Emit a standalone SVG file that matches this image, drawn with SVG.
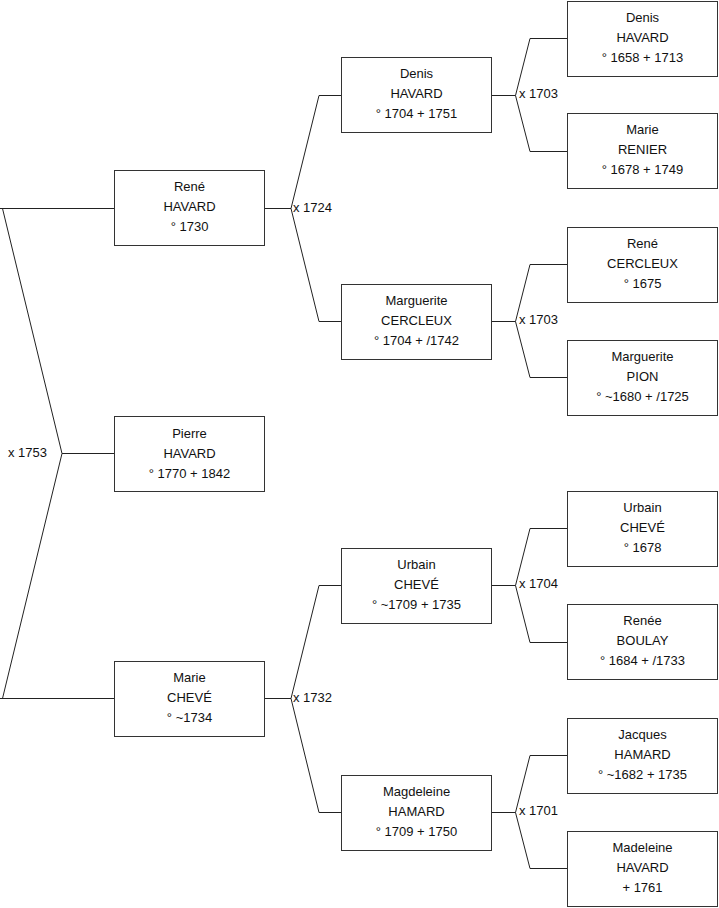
<svg xmlns="http://www.w3.org/2000/svg" width="719" height="908" viewBox="0 0 719 908">
<style>
.box{fill:#fff;stroke:#333;stroke-width:1}
.t{font-family:"Liberation Sans",Arial,sans-serif;font-size:13px;fill:#111;text-anchor:middle}
.lbl{font-family:"Liberation Sans",Arial,sans-serif;font-size:13px;fill:#111}
.c{fill:none;stroke:#222;stroke-width:1}
</style>
<rect width="719" height="908" fill="#fff"/>
<g id="connectors">
<path class="c" d="M114.5 453.5H62"/>
<path class="c" d="M114.5 208.5H0M2.5 208.5L62 453.5L2.5 698.5M0 698.5H114.5"/>
<path class="c" d="M264.5 208.5H291M341.5 95.5H319L291 208.5L319 321.5H341.5"/>
<path class="c" d="M264.5 698.5H291M341.5 585.5H319L291 698.5L319 812.5H341.5"/>
<path class="c" d="M491.5 95.5H515.5M567.5 38.5H530L515.5 95.5L530 151.5H567.5"/>
<path class="c" d="M491.5 321.5H515.5M567.5 264.5H530L515.5 321.5L530 377.5H567.5"/>
<path class="c" d="M491.5 585.5H515.5M567.5 528.5H530L515.5 585.5L530 642.5H567.5"/>
<path class="c" d="M491.5 812.5H515.5M567.5 755.5H530L515.5 812.5L530 868.5H567.5"/>
<text class="lbl" x="47" y="457" text-anchor="end">x 1753</text>
<text class="lbl" x="293" y="211.5">x 1724</text>
<text class="lbl" x="293" y="701.5">x 1732</text>
<text class="lbl" x="519" y="98">x 1703</text>
<text class="lbl" x="519" y="324">x 1703</text>
<text class="lbl" x="519" y="588">x 1704</text>
<text class="lbl" x="519" y="815">x 1701</text>
</g>
<g id="pierre"><rect class="box" x="114.5" y="416.5" width="150" height="75"/><text class="t" x="189.5" y="437.5">Pierre</text><text class="t" x="189.5" y="457.5">HAVARD</text><text class="t" x="189.5" y="477.5">° 1770 + 1842</text></g>
<g id="rene1"><rect class="box" x="114.5" y="170.5" width="150" height="75"/><text class="t" x="189.5" y="191">René</text><text class="t" x="189.5" y="211">HAVARD</text><text class="t" x="189.5" y="231">° 1730</text></g>
<g id="marie1"><rect class="box" x="114.5" y="661.5" width="150" height="75"/><text class="t" x="189.5" y="682">Marie</text><text class="t" x="189.5" y="702">CHEVÉ</text><text class="t" x="189.5" y="722">° ~1734</text></g>
<g id="denis2"><rect class="box" x="341.5" y="57.5" width="150" height="75"/><text class="t" x="416.5" y="78">Denis</text><text class="t" x="416.5" y="98">HAVARD</text><text class="t" x="416.5" y="118">° 1704 + 1751</text></g>
<g id="marguerite2"><rect class="box" x="341.5" y="284.5" width="150" height="75"/><text class="t" x="416.5" y="305">Marguerite</text><text class="t" x="416.5" y="325">CERCLEUX</text><text class="t" x="416.5" y="345">° 1704 + /1742</text></g>
<g id="urbain2"><rect class="box" x="341.5" y="548.5" width="150" height="75"/><text class="t" x="416.5" y="569">Urbain</text><text class="t" x="416.5" y="589">CHEVÉ</text><text class="t" x="416.5" y="609">° ~1709 + 1735</text></g>
<g id="magdeleine2"><rect class="box" x="341.5" y="775.5" width="150" height="75"/><text class="t" x="416.5" y="796">Magdeleine</text><text class="t" x="416.5" y="816">HAMARD</text><text class="t" x="416.5" y="836">° 1709 + 1750</text></g>
<g id="denis3"><rect class="box" x="567.5" y="1.5" width="150" height="75"/><text class="t" x="642.5" y="21.5">Denis</text><text class="t" x="642.5" y="41.5">HAVARD</text><text class="t" x="642.5" y="61.5">° 1658 + 1713</text></g>
<g id="marie3"><rect class="box" x="567.5" y="113.5" width="150" height="75"/><text class="t" x="642.5" y="134">Marie</text><text class="t" x="642.5" y="154">RENIER</text><text class="t" x="642.5" y="174">° 1678 + 1749</text></g>
<g id="rene3"><rect class="box" x="567.5" y="227.5" width="150" height="75"/><text class="t" x="642.5" y="248">René</text><text class="t" x="642.5" y="268">CERCLEUX</text><text class="t" x="642.5" y="288">° 1675</text></g>
<g id="marguerite3"><rect class="box" x="567.5" y="340.5" width="150" height="75"/><text class="t" x="642.5" y="361">Marguerite</text><text class="t" x="642.5" y="381">PION</text><text class="t" x="642.5" y="401">° ~1680 + /1725</text></g>
<g id="urbain3"><rect class="box" x="567.5" y="491.5" width="150" height="75"/><text class="t" x="642.5" y="512">Urbain</text><text class="t" x="642.5" y="532">CHEVÉ</text><text class="t" x="642.5" y="552">° 1678</text></g>
<g id="renee3"><rect class="box" x="567.5" y="604.5" width="150" height="75"/><text class="t" x="642.5" y="625">Renée</text><text class="t" x="642.5" y="645">BOULAY</text><text class="t" x="642.5" y="665">° 1684 + /1733</text></g>
<g id="jacques3"><rect class="box" x="567.5" y="718.5" width="150" height="75"/><text class="t" x="642.5" y="739">Jacques</text><text class="t" x="642.5" y="759">HAMARD</text><text class="t" x="642.5" y="779">° ~1682 + 1735</text></g>
<g id="madeleine3"><rect class="box" x="567.5" y="831.5" width="150" height="75"/><text class="t" x="642.5" y="852">Madeleine</text><text class="t" x="642.5" y="872">HAVARD</text><text class="t" x="642.5" y="892">+ 1761</text></g>
</svg>
